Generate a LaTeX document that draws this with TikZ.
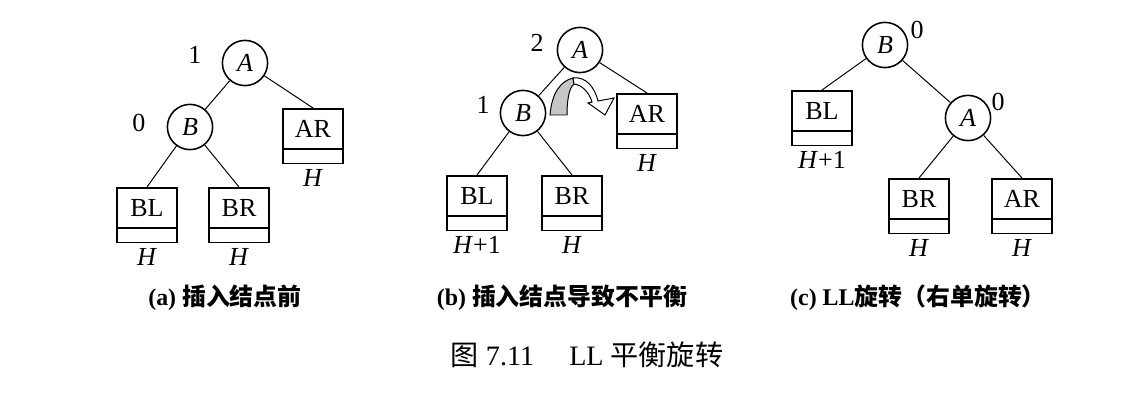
\documentclass[tikz,border=0pt]{standalone}
\usepackage{fontspec}
\setmainfont{Liberation Serif}
\newfontfamily\cjk{Noto Sans CJK SC}
\usetikzlibrary{positioning}
\newcommand{\Ht}{\textit{H}}

\begin{document}
\begin{tikzpicture}[x=0.025cm,y=0.025cm,line width=0.7pt,
                    font=\fontsize{18.5}{21}\selectfont]
  \tikzstyle{avl}=[circle,draw,line width=1.1pt,minimum size=1.13cm,inner sep=0pt]
  \tikzstyle{sub}=[rectangle,draw,line width=1.1pt,minimum width=1.5cm,
                   minimum height=1cm,inner sep=0pt,anchor=north]
  \tikzstyle{strip}=[rectangle,draw,line width=1.1pt,minimum width=1.5cm,
                     minimum height=0.35cm,inner sep=0pt]
  \tikzstyle{ht}=[inner sep=0pt]
  \tikzstyle{subcap}=[inner sep=0pt,font=\fontsize{17}{20}\selectfont\bfseries]

  \useasboundingbox (0,0) rectangle (1140,-406);

  % (a)
  \node[avl] (aA) at (245,-63)  {\textit{A}};
  \node[avl] (aB) at (190,-127) {\textit{B}};
  \node[sub] (aAR) at (313,-108) {AR};
  \node[sub] (aBL) at (147,-187) {BL};
  \node[sub] (aBR) at (239,-187) {BR};
  \node (aAn) at (195,-55)  {1};
  \node (aBn) at (139,-123) {0};

  % (b)
  \node[avl] (bA) at (580,-50)  {\textit{A}};
  \node[avl] (bB) at (523,-113) {\textit{B}};
  \node[sub] (bAR) at (647,-93)  {AR};
  \node[sub] (bBL) at (477,-175) {BL};
  \node[sub] (bBR) at (572,-175) {BR};
  \node (bAn) at (537,-43)  {2};
  \node (bBn) at (483,-105) {1};

  % (c)
  \node[avl] (cB) at (885,-45)  {\textit{B}};
  \node[avl] (cA) at (968,-118) {\textit{A}};
  \node[sub] (cBL) at (822,-90)  {BL};
  \node[sub] (cBR) at (919,-178) {BR};
  \node[sub] (cAR) at (1022,-178) {AR};
  \node (cBn) at (917,-30)  {0};
  \node (cAn) at (998,-102) {0};

  \foreach \t/\h in {aAR/\Ht, aBL/\Ht, aBR/\Ht, bAR/\Ht, bBL/\Ht+1, bBR/\Ht,
                     cBL/\Ht+1, cBR/\Ht, cAR/\Ht}
  {
    \node[strip,below=-0.5pt of \t] (\t-s) {};
    \node[ht,below=3pt of \t-s] (\t-h) {\h};
  }

  \draw (aA) -- (aB);
  \draw (aA) -- (aAR.north);
  \draw (aB) -- (aBL.north);
  \draw (aB) -- (aBR.north);

  \draw (bA) -- (bB);
  \draw (bA) -- (bAR.north);
  \draw (bB) -- (bBL.north);
  \draw (bB) -- (bBR.north);

  \draw (cB) -- (cBL.north);
  \draw (cB) -- (cA);
  \draw (cA) -- (cBR.north);
  \draw (cA) -- (cAR.north);

  % rotation arrow
  \filldraw[fill=gray!45,line width=0.7pt] (550,-115)
    .. controls (552,-92) and (561,-81) .. (573,-78) -- (574,-84)
    .. controls (569,-88) and (567,-100) .. (567,-115) -- cycle;
  \filldraw[fill=white,line width=0.7pt] (573,-78)
    .. controls (586,-76) and (595,-88) .. (598,-101) -- (614,-98)
    -- (605,-115) -- (588,-103) -- (592,-102)
    .. controls (589,-92) and (582,-85) .. (574,-84) -- cycle;

  % captions
  \node[subcap] (capa) at (225,-298) {(a) {\cjk 插入结点前}};
  \node[subcap] (capb) at (562,-298) {(b) {\cjk 插入结点导致不平衡}};
  \node[subcap] (capc) at (918,-298) {(c) LL{\cjk 旋转（右单旋转）}};
  \node[inner sep=0pt,font=\fontsize{20}{22}\selectfont] (fig) at (587,-355)
    {{\cjk 图} 7.11\quad\ LL {\cjk 平衡旋转}};
\end{tikzpicture}
\end{document}
